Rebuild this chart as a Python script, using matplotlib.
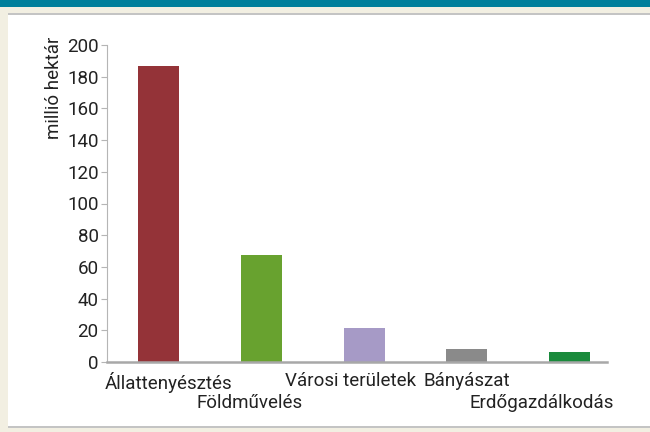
import matplotlib.pyplot as plt
from matplotlib.patches import Rectangle

# adatok
kategoriak = ['Állattenyésztés', 'Földművelés', 'Városi területek', 'Bányászat', 'Erdőgazdálkodás']
ertekek = [187, 67.5, 21.5, 8.2, 6.3]
szinek = ['#943338', '#68a22f', '#a69ac6', '#8a8a8a', '#1a8a3c']
yticks = [0, 20, 40, 60, 80, 100, 120, 140, 160, 180, 200]

plt.rcParams['font.family'] = ['Roboto', 'DejaVu Sans']

W, H = 650, 432
fig = plt.figure(figsize=(6.5, 4.32), dpi=100, facecolor='#f2efe2')

# háttér: fehér panel, felső kék csík, szürke vonalak
def teglalap(x0, y0, w, h, c):
    fig.patches.append(Rectangle((x0 / W, 1 - (y0 + h) / H), w / W, h / H,
                                 transform=fig.transFigure, fc=c, ec='none', zorder=-5))

teglalap(8, 14, W - 8, 412, 'white')
teglalap(0, 0, W, 7, '#007f9b')
teglalap(8, 13, W - 8, 2, '#c4c4c4')
teglalap(8, 426, W - 8, 2, '#c4c4c4')

ax = fig.add_axes([107 / W, 1 - 362 / H, 500 / W, 317 / H])
ax.set_facecolor('none')
ax.set_zorder(2)

x = range(len(kategoriak))
ax.bar(x, ertekek, width=0.4, color=szinek, zorder=2)

ax.set_xlim(-0.507, 4.37)
ax.set_ylim(0, 200)
ax.set_yticks(yticks)
ax.tick_params(axis='y', labelsize=13.5, length=4, color='#b5b5b5', labelcolor='#222222', pad=2)
ax.set_xticks([])

for s in ['top', 'right']:
    ax.spines[s].set_visible(False)
ax.spines['left'].set_color('#b5b5b5')
ax.spines['bottom'].set_color('#a8a8a8')
ax.spines['bottom'].set_linewidth(1.8)

# kategória feliratok, két sorban
sorok = [0, 1, 0, 0, 1]
eltolas = [0.09, -0.12, -0.13, 0.0, -0.27]
for i, nev in enumerate(kategoriak):
    y = -0.03 if sorok[i] == 0 else -0.10
    ax.text(i + eltolas[i], y, nev, transform=ax.get_xaxis_transform(),
            ha='center', va='top', fontsize=13.5, color='#222222')

ax.set_ylabel('millió hektár', fontsize=13.5, color='#222222', labelpad=1)
ax.yaxis.set_label_coords(-0.088, 0.865)

fig.savefig('out.png', dpi=100, facecolor=fig.get_facecolor())
